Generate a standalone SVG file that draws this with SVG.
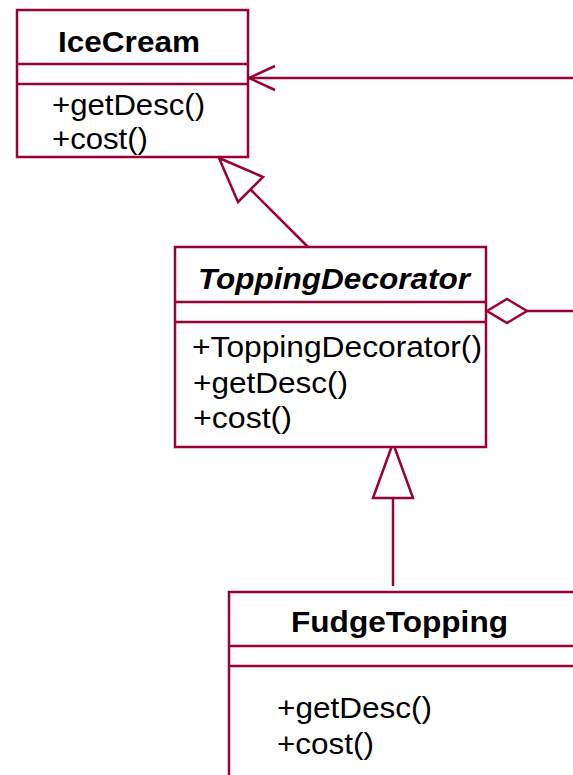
<svg xmlns="http://www.w3.org/2000/svg" width="573" height="775" viewBox="0 0 573 775">
<style>
.box{fill:#fff;stroke:#990033;stroke-width:2.5}
.ln{stroke:#990033;stroke-width:2.5;fill:none}
.hd{fill:#fff;stroke:#990033;stroke-width:2.5;stroke-linejoin:miter}
text{font-family:"Liberation Sans",Arial,sans-serif;font-size:30px;fill:#000}
.t{font-weight:bold}
.i{font-style:italic}
</style>
<rect width="573" height="775" fill="#fff"/>
<g id="connectors">
<line class="ln" x1="573" y1="78" x2="249" y2="78"/>
<polyline class="ln" points="275,66 249,78 275,90"/>
<line class="ln" x1="308" y1="247" x2="250" y2="189"/>
<polygon class="hd" points="219,158 238,202 263,177"/>
<line class="ln" x1="393" y1="586" x2="393" y2="498"/>
<polygon class="hd" points="393,443 373,498 413,498"/>
<line class="ln" x1="573" y1="311" x2="527" y2="311"/>
<polygon class="hd" points="487,311 507,299 527,311 507,323"/>
</g>
<g id="IceCream">
<rect class="box" x="17" y="10" width="231" height="147"/>
<line class="ln" x1="17" y1="64" x2="248" y2="64"/>
<line class="ln" x1="17" y1="84" x2="248" y2="84"/>
<text class="t" x="58" y="52" textLength="142" lengthAdjust="spacingAndGlyphs">IceCream</text>
<text x="52" y="115" textLength="153" lengthAdjust="spacingAndGlyphs">+getDesc()</text>
<text x="52" y="149" textLength="96" lengthAdjust="spacingAndGlyphs">+cost()</text>
</g>
<g id="ToppingDecorator">
<rect class="box" x="175" y="247" width="311" height="200"/>
<line class="ln" x1="175" y1="302" x2="486" y2="302"/>
<line class="ln" x1="175" y1="322" x2="486" y2="322"/>
<text class="t i" x="198" y="289" textLength="272" lengthAdjust="spacingAndGlyphs">ToppingDecorator</text>
<text x="192" y="357" textLength="290" lengthAdjust="spacingAndGlyphs">+ToppingDecorator()</text>
<text x="193" y="393" textLength="155" lengthAdjust="spacingAndGlyphs">+getDesc()</text>
<text x="193" y="428" textLength="99" lengthAdjust="spacingAndGlyphs">+cost()</text>
</g>
<g id="FudgeTopping">
<rect class="box" x="229" y="592" width="400" height="250"/>
<line class="ln" x1="229" y1="646" x2="573" y2="646"/>
<line class="ln" x1="229" y1="666" x2="573" y2="666"/>
<text class="t" x="291" y="632" textLength="217" lengthAdjust="spacingAndGlyphs">FudgeTopping</text>
<text x="277" y="718" textLength="155" lengthAdjust="spacingAndGlyphs">+getDesc()</text>
<text x="277" y="754" textLength="97" lengthAdjust="spacingAndGlyphs">+cost()</text>
</g>
</svg>
